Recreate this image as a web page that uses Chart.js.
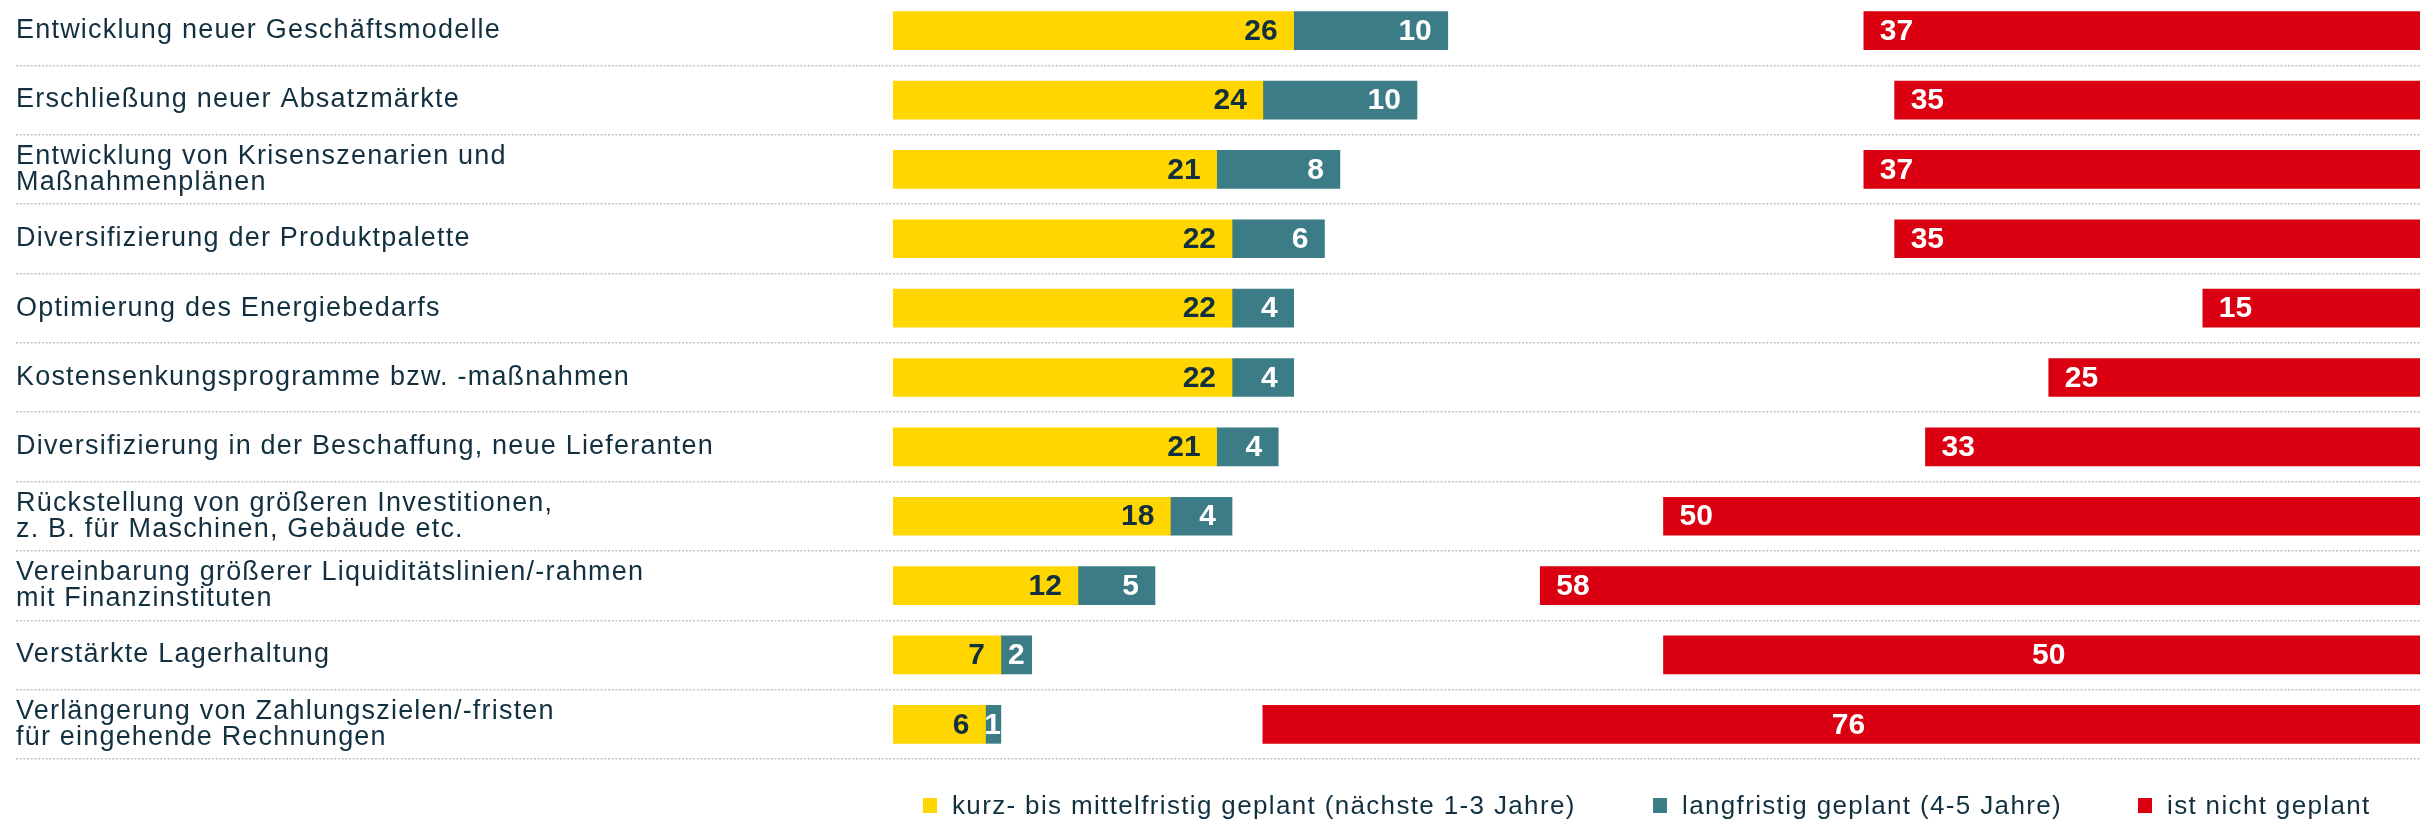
<!DOCTYPE html>
<html lang="de">
<head>
<meta charset="utf-8">
<title>Geplante Maßnahmen</title>
<script src="https://cdn.jsdelivr.net/npm/chart.js@4.4.1/dist/chart.umd.min.js"></script>
<style>
  html, body { margin: 0; padding: 0; background: #fff; overflow: hidden; }
  body { width: 2420px; height: 819px; position: relative; }
  #wrap { position: absolute; left: 0; top: -4px; width: 2434px; height: 823px; }
  .legend-item { position: absolute; top: 790px; height: 30px; display: flex; align-items: center;
    font: 26px "Liberation Sans", Arial, sans-serif; letter-spacing: 1.35px; color: #12303f; white-space: nowrap; }
  .legend-item i { display: inline-block; width: 14px; height: 15px; margin-right: 15px; }
</style>
</head>
<body>
<div id="wrap"><canvas id="chart"></canvas></div>
<div id="legend"></div>
<script>
// Werte in Prozent
const categories = [
  'Entwicklung neuer Geschäftsmodelle',
  'Erschließung neuer Absatzmärkte',
  ['Entwicklung von Krisenszenarien und', 'Maßnahmenplänen'],
  'Diversifizierung der Produktpalette',
  'Optimierung des Energiebedarfs',
  'Kostensenkungsprogramme bzw. -maßnahmen',
  'Diversifizierung in der Beschaffung, neue Lieferanten',
  ['Rückstellung von größeren Investitionen,', 'z. B. für Maschinen, Gebäude etc.'],
  ['Vereinbarung größerer Liquiditätslinien/-rahmen', 'mit Finanzinstituten'],
  'Verstärkte Lagerhaltung',
  ['Verlängerung von Zahlungszielen/-fristen', 'für eingehende Rechnungen']
];
const kurzfristig = [26, 24, 21, 22, 22, 22, 21, 18, 12, 7, 6];
const langfristig = [10, 10, 8, 6, 4, 4, 4, 4, 5, 2, 1];
const nichtGeplant = [37, 35, 37, 35, 15, 25, 33, 50, 58, 50, 76];
const seriesNames = [
  'kurz- bis mittelfristig geplant (nächste 1-3 Jahre)',
  'langfristig geplant (4-5 Jahre)',
  'ist nicht geplant'
];

const YELLOW = '#ffd600';
const TEAL = '#3b7c86';
const RED = '#da0011';
const TEXT = '#12303f';
const FONT = '"Liberation Sans", Arial, sans-serif';

// Abstand zwischen den geplanten Massnahmen und "nicht geplant" (rechtsbuendig auf 100)
const luecke = kurzfristig.map((v, i) => 100 - v - langfristig[i] - nichtGeplant[i]);

// etwas gesperrte Schrift fuer die Achsenbeschriftung
const spacing = {
  id: 'spacing',
  beforeLayout(chart) { chart.ctx.letterSpacing = '1.2px'; },
  beforeDraw(chart) { chart.ctx.letterSpacing = '1.2px'; }
};

const valueLabels = {
  id: 'valueLabels',
  afterDatasetsDraw(chart, args, opts) {
    const ctx = chart.ctx;
    ctx.save();
    ctx.letterSpacing = '0px';
    ctx.font = 'bold 30px ' + FONT;
    ctx.textBaseline = 'middle';
    chart.data.datasets.forEach((ds, di) => {
      const mode = opts.modes[di];
      if (!mode) return;
      const meta = chart.getDatasetMeta(di);
      meta.data.forEach((bar, i) => {
        const text = String(ds.data[i]);
        const w = ctx.measureText(text).width;
        const left = Math.min(bar.base, bar.x);
        const right = Math.max(bar.base, bar.x);
        ctx.fillStyle = opts.colors[di];
        if (mode === 'end') {
          const pad = Math.max(0, Math.min(opts.padding, (right - left - w) / 2));
          ctx.textAlign = 'right';
          ctx.fillText(text, right - pad, bar.y + 1);
        } else if (opts.centered.includes(i)) {
          ctx.textAlign = 'center';
          ctx.fillText(text, (left + right) / 2, bar.y + 1);
        } else {
          ctx.textAlign = 'left';
          ctx.fillText(text, left + opts.padding, bar.y + 1);
        }
      });
    });
    ctx.restore();
  }
};

const ctx = document.getElementById('chart').getContext('2d');
const chart = new Chart(ctx, {
  type: 'bar',
  data: {
    labels: categories,
    datasets: [
      { label: seriesNames[0], data: kurzfristig, backgroundColor: YELLOW },
      { label: seriesNames[1], data: langfristig, backgroundColor: TEAL },
      { label: '', data: luecke, backgroundColor: 'rgba(0,0,0,0)' },
      { label: seriesNames[2], data: nichtGeplant, backgroundColor: RED }
    ]
  },
  options: {
    indexAxis: 'y',
    responsive: true,
    maintainAspectRatio: false,
    animation: false,
    barThickness: 38,
    layout: { padding: { left: 16, right: 0, top: 0, bottom: 60 } },
    scales: {
      x: { stacked: true, min: 0, max: 100, display: false },
      y: {
        stacked: true,
        // in v4 kommt die Strichelung der Gitterlinien aus border.dash
        border: { display: false, dash: [2, 1.7] },
        grid: {
          offset: true,
          color: '#c2c2c2',
          lineWidth: 1.5,
          tickBorderDash: [2, 1.7],
          tickLength: 877,
          drawTicks: true
        },
        ticks: {
          crossAlign: 'far',
          padding: 0,
          autoSkip: false,
          color: TEXT,
          font: { family: FONT, size: 27, lineHeight: 0.97 }
        },
        afterFit(scale) {
          scale.width = 877;
          scale.paddingTop = 0;
          scale.paddingBottom = 0;
        }
      }
    },
    plugins: {
      legend: { display: false },
      tooltip: { enabled: false },
      valueLabels: {
        modes: ['end', 'end', null, 'start'],
        colors: [TEXT, '#ffffff', null, '#ffffff'],
        padding: 16,
        centered: [9, 10]
      }
    }
  },
  plugins: [spacing, valueLabels]
});

// Legende unten
const legend = document.getElementById('legend');
const legendLeft = [923, 1653, 2138];
[YELLOW, TEAL, RED].forEach((c, i) => {
  const item = document.createElement('div');
  item.className = 'legend-item';
  item.style.left = legendLeft[i] + 'px';
  item.innerHTML = '<i style="background:' + c + '"></i>' + seriesNames[i];
  legend.appendChild(item);
});
</script>
</body>
</html>
